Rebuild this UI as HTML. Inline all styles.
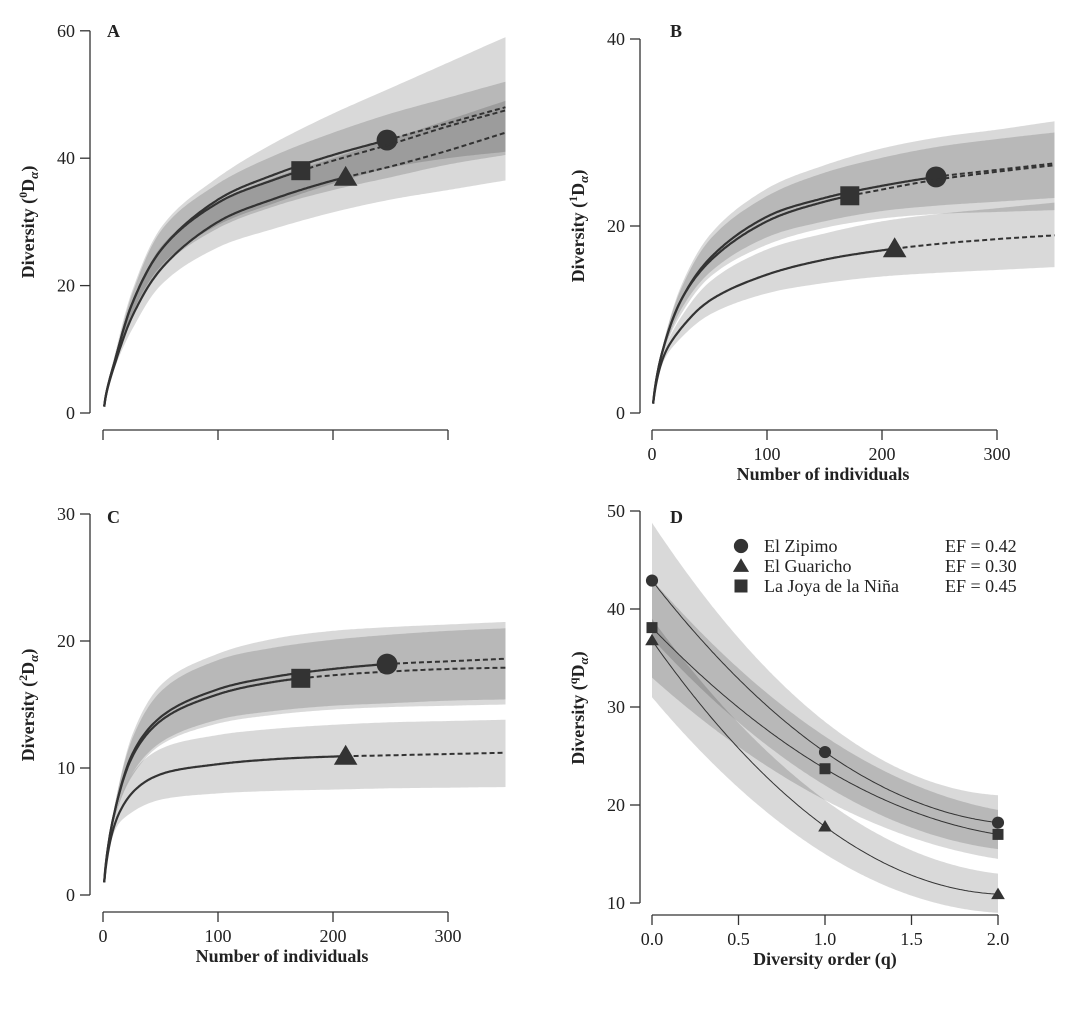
<!DOCTYPE html>
<html><head><meta charset="utf-8"><style>
body{margin:0;background:#fff;}
svg{display:block;font-family:"Liberation Serif",serif;}
</style></head><body>
<svg id="c" width="1068" height="1012" viewBox="0 0 1068 1012"></svg>
<script>
// ---- data ----
const nGrid=[1,10,25,50,100,150,200,250,300,350];
const observedN=[247,211,172]; // Zipimo, Guaricho, Joya
const sites=['El Zipimo','El Guaricho','La Joya de la Niña'];
// Panel A (q=0)
const aZipMean=[1,8,17,25.5,33.5,37.5,40.5,43,45.5,48];
const aGuaMean=[1,7.5,15,22.5,30,33.7,36.5,38.7,41.2,44];
const aJoyMean=[1,8,17,25.5,33,36.7,39.6,42.2,45,47.5];
const aZipLo=[1,7.5,15.5,23,29.5,33,36,38.5,40,41], aZipHi=[1,9,19,29,37,42.5,47,51,55,59];
const aGuaLo=[1,7,13,20,26,29,31.5,33.5,35,36.5], aGuaHi=[1,8,17,26,33,37,40,43,46,49];
const aJoyLo=[1,7.5,15,22.5,29,32.5,35,37,39,40.5], aJoyHi=[1,8.5,18.5,28.5,36,40.5,44,47,49.5,52];
// Panel B (q=1)
const bZipMean=[1,7,12,16.5,21,23,24.3,25.3,26,26.7];
const bGuaMean=[1,6,9,12,14.8,16.4,17.4,18.1,18.6,19];
const bJoyMean=[1,7,12,16.2,20.5,22.6,23.9,25,25.8,26.5];
const bZipLo=[1,6.5,10.5,14.5,18,19.8,20.8,21.3,21.5,21.7], bZipHi=[1,7.5,13.5,19,24,26.5,28.3,29.5,30.3,31.2];
const bGuaLo=[1,5.5,8,10.5,12.8,13.9,14.6,15,15.3,15.6], bGuaHi=[1,6.5,10.2,14,17.5,19.2,20.5,21.3,21.9,22.5];
const bJoyLo=[1,6.5,11,15,18.8,20.5,21.6,22.2,22.6,23], bJoyHi=[1,7.5,13.2,18.5,23.2,25.7,27.3,28.5,29.3,30];
// Panel C (q=2)
const cZipMean=[1,6.5,11,14,16.2,17.2,17.8,18.2,18.4,18.6];
const cGuaMean=[1,5.5,8,9.5,10.3,10.7,10.9,11,11.1,11.2];
const cJoyMean=[1,6.5,10.8,13.7,15.8,16.8,17.3,17.6,17.8,17.9];
const cZipLo=[1,6,9.5,12,13.8,14.5,14.9,15.1,15.3,15.4], cZipHi=[1,7,12.5,16.5,19,20.2,20.8,21.1,21.3,21.5];
const cJoyLo=[1,6,9.3,11.8,13.5,14.2,14.6,14.8,14.9,15], cJoyHi=[1,7,12.2,16,18.5,19.5,20.1,20.5,20.8,21];
const cGuaLo=[1,5,6.5,7.5,8,8.2,8.3,8.4,8.45,8.5], cGuaHi=[1,6,9.5,11.5,12.6,13.1,13.4,13.6,13.7,13.8];
// Panel D (profiles)
const qOrders=[0,1,2];
const dZip=[42.9,25.4,18.2], dGua=[36.8,17.8,10.9], dJoy=[38.1,23.7,17.0];
const dZipLo=[37,22,15.5], dZipHi=[48.8,28.5,21];
const dGuaLo=[31,15,9], dGuaHi=[39,20.5,13];
const dJoyLo=[33,20.5,14.5], dJoyHi=[43,27,19.5];
const efValues=['0.42','0.30','0.45'];
const xTicks=[0,100,200,300];
const dTicks=[0,0.5,1,1.5,2];

const NS='http://www.w3.org/2000/svg', svg=document.getElementById('c');
function el(tag,attrs,parent,txt){const e=document.createElementNS(NS,tag);for(const k in attrs)e.setAttribute(k,attrs[k]);if(txt!==undefined)e.textContent=txt;(parent||svg).appendChild(e);return e;}

function hermite(xs,ys,x){
  let i=0;while(i<xs.length-2&&x>xs[i+1])i++;
  const x0=xs[i],x1=xs[i+1],y0=ys[i],y1=ys[i+1];
  const m=(k)=>{if(k<=0)return (ys[1]-ys[0])/(xs[1]-xs[0]);if(k>=xs.length-1)return (ys[k]-ys[k-1])/(xs[k]-xs[k-1]);return (ys[k+1]-ys[k-1])/(xs[k+1]-xs[k-1]);};
  const h=x1-x0,t=(x-x0)/h,t2=t*t,t3=t2*t;
  return (2*t3-3*t2+1)*y0+(t3-2*t2+t)*h*m(i)+(-2*t3+3*t2)*y1+(t3-t2)*h*m(i+1);
}
function lagrange(xs,ys,x){let s=0;for(let i=0;i<xs.length;i++){let p=ys[i];for(let j=0;j<xs.length;j++)if(j!==i)p*=(x-xs[j])/(xs[i]-xs[j]);s+=p;}return s;}
function interpFn(mode){
  if(mode==='quad')return lagrange;
  return (xs,ys,x)=>hermite(xs.map(Math.sqrt),ys,Math.sqrt(x));
}
function samples(f,xs,ys,a,b,n){const p=[];for(let i=0;i<=n;i++){const x=a+(b-a)*i/n;p.push([x,f(xs,ys,x)]);}return p;}

function marker(g,shape,cx,cy,s,name){
  let e;
  if(shape==='circle')e=el('circle',{cx:cx,cy:cy,r:s*0.55,fill:'#333'},g);
  else if(shape==='triangle')e=el('polygon',{points:`${cx},${cy-s*0.6} ${cx-s*0.62},${cy+s*0.45} ${cx+s*0.62},${cy+s*0.45}`,fill:'#333'},g);
  else e=el('rect',{x:cx-s*0.5,y:cy-s*0.5,width:s,height:s,fill:'#333'},g);
  
  
}

function panel(cfg){
  const g=el('g',{});
  
  
  const f=interpFn(cfg.mode);
  const X=v=>cfg.x0+(v-cfg.xmin)*cfg.xs, Y=v=>cfg.y0-(v-cfg.ymin)*cfg.ys;
  const xa=cfg.xd[0], xb=cfg.xd[cfg.xd.length-1];
  cfg.bands.forEach((b,i)=>{
    const up=samples(f,cfg.xd,b[1],xa,xb,200);
    const lo=samples(f,cfg.xd,b[0],xa,xb,200).reverse();
    const d='M'+up.concat(lo).map(p=>X(p[0]).toFixed(1)+','+Y(p[1]).toFixed(1)).join('L')+'Z';
    const e=el('path',{d:d,fill:'rgba(0,0,0,0.15)',stroke:'none'},g);
    
    
  });
  cfg.means.forEach((m,i)=>{
    const end=cfg.obs?cfg.obs[i]:xb;
    const s=samples(f,cfg.xd,m,xa,end,200);
    const e=el('path',{d:'M'+s.map(p=>X(p[0]).toFixed(1)+','+Y(p[1]).toFixed(1)).join('L'),fill:'none',stroke:'#333','stroke-width':cfg.lw},g);
    
    
    if(cfg.obs){
      const s2=samples(f,cfg.xd,m,end,xb,60);
      const e2=el('path',{d:'M'+s2.map(p=>X(p[0]).toFixed(1)+','+Y(p[1]).toFixed(1)).join('L'),fill:'none',stroke:'#333','stroke-width':2,'stroke-dasharray':'5,3'},g);
      
      
      marker(g,cfg.shapes[i],X(end),Y(f(cfg.xd,m,end)),cfg.ms,'marker-'+cfg.keys[i]);
    } else {
      cfg.xd.forEach((q,j)=>marker(g,cfg.shapes[i],X(q),Y(m[j]),cfg.ms,'marker-'+cfg.keys[i]+'-q'+q));
    }
  });
  const ax=el('g',{},g);
  el('line',{x1:cfg.yax,x2:cfg.yax,y1:Y(cfg.yt[0]),y2:Y(cfg.yt[cfg.yt.length-1]),stroke:'#333','stroke-width':1.3},ax);
  cfg.yt.forEach(t=>{el('line',{x1:cfg.yax-10,x2:cfg.yax,y1:Y(t),y2:Y(t),stroke:'#333','stroke-width':1.3},ax);
    const tx=el('text',{x:cfg.yax-15,y:Y(t)+6,'text-anchor':'end','font-size':18,fill:'#222'},ax,String(t));
    });
  const bx=el('g',{},g);
  el('line',{x1:X(cfg.xt[0]),x2:X(cfg.xt[cfg.xt.length-1]),y1:cfg.xax,y2:cfg.xax,stroke:'#333','stroke-width':1.3},bx);
  cfg.xt.forEach(t=>{el('line',{x1:X(t),x2:X(t),y1:cfg.xax,y2:cfg.xax+10,stroke:'#333','stroke-width':1.3},bx);
    if(cfg.xlab){const tx=el('text',{x:X(t),y:cfg.xax+30,'text-anchor':'middle','font-size':18,fill:'#222'},bx,cfg.fmt?cfg.fmt(t):String(t));
    }});
  if(cfg.xtitle){const t=el('text',{x:cfg.xtx,y:cfg.xax+50,'text-anchor':'middle','font-size':18,'font-weight':'bold',fill:'#222'},g,cfg.xtitle);
    }
  const yt=el('text',{transform:`translate(${cfg.yax-56},${cfg.ytc}) rotate(-90)`,'text-anchor':'middle','font-size':18,'font-weight':'bold',fill:'#222'},g);
  
  el('tspan',{},yt,'Diversity (');el('tspan',{'font-size':12,dy:-7},yt,cfg.sup);el('tspan',{dy:7},yt,'D');
  el('tspan',{'font-size':13,dy:4,'font-style':'italic'},yt,'α');el('tspan',{dy:-4},yt,')');
  const L=el('text',{x:cfg.lx,y:cfg.ly,'font-size':18,'font-weight':'bold',fill:'#222'},g,cfg.letter);
  
}
const shapes=['circle','triangle','square'], keys=['zipimo','guaricho','joya'];
panel({letter:'A',lx:107,ly:37,x0:103,xmin:0,xs:1.15,y0:413,ymin:0,ys:6.37,xd:nGrid,mode:'sqrt',
  bands:[[aZipLo,aZipHi],[aGuaLo,aGuaHi],[aJoyLo,aJoyHi]],means:[aZipMean,aGuaMean,aJoyMean],obs:observedN,
  shapes,keys,ms:19,lw:2.2,yax:90,yt:[0,20,40,60],xax:430,xt:xTicks,xlab:false,sup:'0',ytc:222});
panel({letter:'B',lx:670,ly:37,x0:652,xmin:0,xs:1.15,y0:413,ymin:0,ys:9.35,xd:nGrid,mode:'sqrt',
  bands:[[bZipLo,bZipHi],[bGuaLo,bGuaHi],[bJoyLo,bJoyHi]],means:[bZipMean,bGuaMean,bJoyMean],obs:observedN,
  shapes,keys,ms:19,lw:2.2,yax:640,yt:[0,20,40],xax:430,xt:xTicks,xlab:true,xtitle:'Number of individuals',xtx:823,sup:'1',ytc:226});
panel({letter:'C',lx:107,ly:523,x0:103,xmin:0,xs:1.15,y0:895,ymin:0,ys:12.7,xd:nGrid,mode:'sqrt',
  bands:[[cZipLo,cZipHi],[cGuaLo,cGuaHi],[cJoyLo,cJoyHi]],means:[cZipMean,cGuaMean,cJoyMean],obs:observedN,
  shapes,keys,ms:19,lw:2.2,yax:90,yt:[0,10,20,30],xax:912,xt:xTicks,xlab:true,xtitle:'Number of individuals',xtx:282,sup:'2',ytc:705});
panel({letter:'D',lx:670,ly:523,x0:652,xmin:0,xs:173,y0:903,ymin:10,ys:9.8,xd:qOrders,mode:'quad',
  bands:[[dZipLo,dZipHi],[dGuaLo,dGuaHi],[dJoyLo,dJoyHi]],means:[dZip,dGua,dJoy],obs:null,
  shapes,keys,ms:11,lw:1,yax:640,yt:[10,20,30,40,50],xax:915,xt:dTicks,xlab:true,fmt:t=>t.toFixed(1),xtitle:'Diversity order (q)',xtx:825,sup:'q',ytc:708});
const lg=el('g',{});
sites.forEach((s,i)=>{const y=546+i*20;
  marker(lg,shapes[i],741,y,13,'legend-marker-'+keys[i]);
  const t=el('text',{x:764,y:y+6,'font-size':18,fill:'#222'},lg,s);
  const e=el('text',{x:945,y:y+6,'font-size':18,fill:'#222'},lg,'EF = '+efValues[i]);
});
</script>
</body></html>
